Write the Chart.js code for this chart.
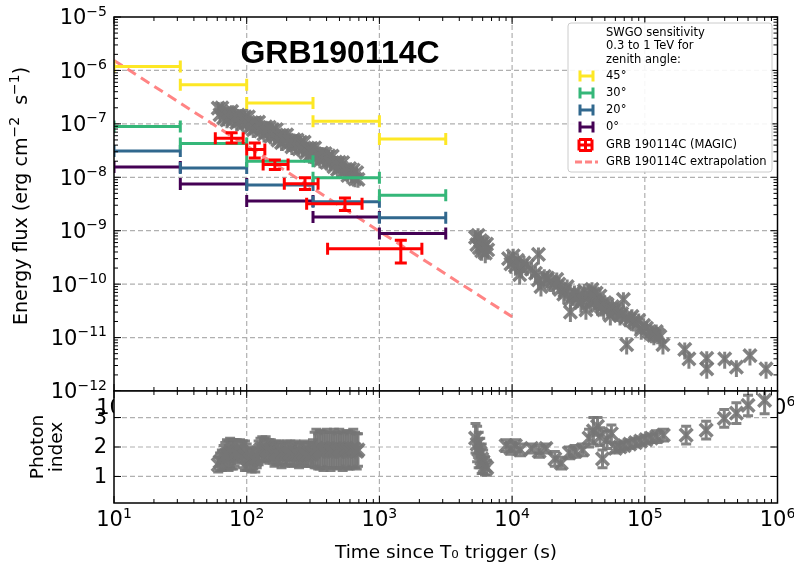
<!DOCTYPE html>
<html>
<head>
<meta charset="utf-8">
<script src="https://cdn.jsdelivr.net/npm/chart.js@4.4.0/dist/chart.umd.min.js"></script>
<style>
  body { margin: 0; background: #fff; }
  #wrap { position: relative; width: 794px; height: 567px; }
  canvas { position: absolute; left: 0; top: 0; }
</style>
</head>
<body>
<div id="wrap">
  <canvas id="fluxChart" width="794" height="567"></canvas>
  <canvas id="indexChart" width="794" height="567"></canvas>
</div>
<script>
// SWGO sensitivity, time bins (s) and flux per zenith angle (erg cm-2 s-1)
const binEdges = [10, 31.6, 100, 316, 1000, 3162];
const sens45 = [1.19e-6, 5.4e-7, 2.46e-7, 1.12e-7, 5.2e-8];
const sens30 = [8.9e-8, 4.3e-8, 2.0e-8, 9.8e-9, 4.6e-9];
const sens20 = [3.1e-8, 1.5e-8, 7.2e-9, 3.5e-9, 1.74e-9];
const sens0 = [1.55e-8, 7.5e-9, 3.6e-9, 1.8e-9, 8.9e-10];

// MAGIC points
const magicTime = [77, 115, 163, 275, 550, 1450];
const magicTimeLo = [58, 100, 133, 192, 283, 407];
const magicTimeHi = [94, 137, 205, 345, 740, 2090];
const magicFlux = [5.4e-8, 3.3e-8, 1.74e-8, 7.6e-9, 3.2e-9, 4.6e-10];
const magicFluxLo = [4.4e-8, 2.3e-8, 1.4e-8, 5.9e-9, 2.4e-9, 2.5e-10];
const magicFluxHi = [6.8e-8, 4.4e-8, 2.1e-8, 9.8e-9, 4.1e-9, 6.6e-10];

// extrapolation
const extrapTime = [10, 10000];
const extrapFlux = [1.54e-6, 2.45e-11];

// early gray data (both panels share the time bins)
const earlyTime = [61, 63, 65, 67, 69, 71, 73, 75, 77, 79, 81, 84, 86, 89, 91, 94, 97, 100, 103, 106,
  109, 112, 116, 119, 123, 127, 131, 135, 139, 143, 148, 152, 157, 162, 167, 172, 177, 183, 188, 194,
  200, 206, 213, 219, 226, 233, 240, 248, 255, 263, 271, 280, 288, 297, 306, 316, 325, 335, 346, 356,
  367, 379, 390, 402, 415, 428, 441, 454, 468, 483, 498, 513, 529, 545, 562, 579, 597, 616, 635, 655, 675, 690];
const earlyFlux = [1.97e-7, 1.49e-7, 2.0e-7, 1.29e-7, 1.59e-7, 1.18e-7, 1.63e-7, 1.35e-7, 1.71e-7, 1.18e-7,
  1.33e-7, 1.05e-7, 1.46e-7, 1.15e-7, 1.46e-7, 1.0e-7, 1.35e-7, 1.01e-7, 1.35e-7, 8.65e-8,
  1.05e-7, 7.76e-8, 1.05e-7, 8.7e-8, 1.08e-7, 7.4e-8, 8.2e-8, 6.4e-8, 8.8e-8, 6.9e-8,
  8.6e-8, 5.9e-8, 7.8e-8, 5.8e-8, 7.8e-8, 4.97e-8, 6.07e-8, 4.44e-8, 6.08e-8, 4.99e-8,
  6.2e-8, 4.26e-8, 4.72e-8, 3.72e-8, 5.07e-8, 3.98e-8, 4.97e-8, 3.39e-8, 4.53e-8, 3.4e-8,
  4.54e-8, 2.88e-8, 3.51e-8, 2.56e-8, 3.48e-8, 2.85e-8, 3.55e-8, 2.42e-8, 2.67e-8, 2.1e-8,
  2.85e-8, 2.22e-8, 2.77e-8, 1.89e-8, 2.51e-8, 1.87e-8, 2.49e-8, 1.59e-8, 1.93e-8, 1.4e-8,
  1.9e-8, 1.54e-8, 1.89e-8, 1.28e-8, 1.39e-8, 1.08e-8, 1.45e-8, 1.12e-8, 1.37e-8, 9.3e-9, 1.22e-8, 9.1e-9];
const earlyFluxRelErr = 0.3;
const earlyIndex = [1.4, 1.5, 1.55, 1.65, 1.7, 1.75, 1.7, 1.8, 1.75, 1.75, 1.8, 1.85, 1.9, 1.95, 1.85, 1.75, 1.7, 1.65, 1.6, 1.55,
  1.55, 1.6, 1.55, 1.65, 1.8, 1.9, 1.95, 1.9, 1.95, 1.9, 1.85, 1.9, 1.8, 1.75, 1.8, 1.75, 1.8, 1.7, 1.8, 1.75,
  1.8, 1.75, 1.8, 1.7, 1.75, 1.8, 1.75, 1.7, 1.8, 1.75, 1.8, 1.7, 1.75, 1.8, 1.75, 1.8, 1.9, 1.95, 1.85, 1.9,
  1.95, 1.85, 1.9, 1.95, 1.9, 1.85, 1.9, 1.95, 1.9, 1.85, 1.95, 1.9, 1.85, 1.9, 1.95, 1.9, 1.85, 1.9, 1.95, 1.9, 1.85, 1.9];
const earlyIndexErr = [0.25, 0.3, 0.35, 0.4, 0.45, 0.5, 0.5, 0.5, 0.5, 0.5, 0.45, 0.4, 0.3, 0.3, 0.35, 0.45, 0.5, 0.45, 0.4, 0.35,
  0.4, 0.35, 0.4, 0.35, 0.4, 0.4, 0.4, 0.4, 0.4, 0.35, 0.4, 0.35, 0.35, 0.4, 0.4, 0.35, 0.4, 0.4, 0.35, 0.4,
  0.4, 0.35, 0.4, 0.35, 0.4, 0.4, 0.35, 0.4, 0.35, 0.4, 0.4, 0.35, 0.4, 0.35, 0.4, 0.45, 0.6, 0.65, 0.6, 0.65,
  0.6, 0.65, 0.6, 0.65, 0.6, 0.65, 0.6, 0.65, 0.6, 0.6, 0.65, 0.6, 0.65, 0.6, 0.6, 0.65, 0.6, 0.6, 0.65, 0.6, 0.6, 0.55];

// later gray flux points
const lateFluxTime = [5300, 5420, 5540, 5660, 5780, 5900, 6020, 6150, 6280, 6420, 6550,
  9400, 9800, 10200, 10600, 11000, 11400, 11800, 12300, 13000, 14000,
  15000, 15800, 15800, 16500, 17500, 18500, 19500, 20500, 21700, 22500, 23000, 24500, 25000, 26000,
  27500, 27500, 28500, 29500, 31000, 32000, 33000, 34000, 35000, 36000, 37000, 38000, 39000, 40000,
  41000, 42000, 43000, 44000, 45000, 46000, 47000, 49000, 50000, 52000, 53000, 55000, 57000, 58000,
  61000, 63000, 65000, 67000, 69000, 72000, 73000, 77000, 80000, 82000, 86000, 90000, 94000, 98000,
  103000, 108000, 112000, 117000, 122000, 125000, 130000, 137000,
  200000, 215000, 293000, 293000, 400000, 490000, 620000, 820000];
const lateFlux = [7.5e-10, 5.5e-10, 8.2e-10, 4.8e-10, 6.5e-10, 4.2e-10, 6.0e-10, 5.0e-10, 3.8e-10, 5.6e-10, 4.4e-10,
  3.0e-10, 2.4e-10, 3.4e-10, 2.2e-10, 2.8e-10, 1.5e-10, 2.0e-10, 2.5e-10, 2.2e-10, 1.9e-10,
  1.6e-10, 3.6e-10, 1.2e-10, 9.0e-11, 1.4e-10, 1.3e-10, 1.1e-10, 1.0e-10, 1.23e-10, 1.0e-10, 8.0e-11, 6.5e-11, 7.5e-11, 9.0e-11,
  5.2e-11, 3.0e-11, 6.0e-11, 7.0e-11, 5.5e-11, 6.5e-11, 4.5e-11, 5.0e-11, 7.5e-11, 3.3e-11, 5.5e-11, 6.5e-11, 4.5e-11, 8.0e-11,
  6.5e-11, 5.0e-11, 6.8e-11, 4.0e-11, 4.8e-11, 6.0e-11, 3.8e-11, 3.3e-11, 4.5e-11, 4.2e-11, 3.5e-11, 2.6e-11, 3.8e-11, 3.2e-11,
  3.4e-11, 3.0e-11, 2.6e-11, 2.8e-11, 5.2e-11, 2.4e-11, 7.4e-12, 2.2e-11, 2.5e-11, 2.0e-11, 1.8e-11, 2.1e-11, 1.4e-11, 1.7e-11,
  1.5e-11, 1.3e-11, 1.2e-11, 1.1e-11, 1.3e-11, 1.15e-11, 1.05e-11, 7.4e-12,
  6.0e-12, 4.0e-12, 4.1e-12, 2.6e-12, 4.0e-12, 2.8e-12, 4.6e-12, 2.6e-12];
const lateFluxRelErr = 0.35;

// later photon index points
const lateIndexTime = [5300, 5450, 5600, 5750, 5900, 6050, 6250, 6450,
  9000, 9800, 10600, 11500, 14000, 16000, 18000, 21000, 23500, 27000, 30000, 34000,
  38000, 41000, 44000, 46000, 48000, 52000, 56000, 60000, 65000, 70000, 77000, 85000, 93000,
  102000, 112000, 123000, 138000, 205000, 290000, 397000, 490000, 600000, 800000];
const lateIndex = [2.3, 2.1, 1.9, 1.8, 1.6, 1.5, 1.35, 1.3,
  2.05, 1.95, 2.05, 1.9, 1.95, 1.85, 1.95, 1.6, 1.45, 1.8, 1.85, 1.9,
  2.3, 2.55, 2.7, 2.35, 1.6, 2.25, 2.45, 1.95, 2.0, 2.05, 2.1, 2.15, 2.2,
  2.25, 2.3, 2.35, 2.4, 2.4, 2.57, 2.97, 3.15, 3.41, 3.58];
const lateIndexErr = [0.5, 0.6, 0.6, 0.5, 0.5, 0.4, 0.3, 0.25,
  0.2, 0.2, 0.2, 0.2, 0.15, 0.2, 0.15, 0.25, 0.2, 0.2, 0.2, 0.2,
  0.3, 0.45, 0.3, 0.3, 0.3, 0.3, 0.3, 0.15, 0.15, 0.15, 0.15, 0.15, 0.15,
  0.15, 0.15, 0.2, 0.2, 0.3, 0.3, 0.3, 0.35, 0.35, 0.45];
const indexTicks = [1, 2, 3];

const legendTitle = ['SWGO sensitivity', '0.3 to 1 TeV for', 'zenith angle:'];
const zenithLabels = ['45°', '30°', '20°', '0°'];

const GRAY = 'rgba(118,118,118,0.9)';
const colors = { 45: '#fde725', 30: '#35b779', 20: '#31688e', 0: '#440154' };
const RED = '#ff0000';
const PINK = 'rgba(255,110,110,0.85)';
const FONT = '"DejaVu Sans"';

function decades(lo, hi) {
  const out = [];
  for (let e = Math.round(Math.log10(lo)); e <= Math.round(Math.log10(hi)); e++) out.push(Math.pow(10, e));
  return out;
}
function minorsOf(lo, hi) {
  const out = [];
  decades(lo, hi).forEach(d => { for (let m = 2; m <= 9; m++) if (d * m < hi) out.push(d * m); });
  return out;
}

// "10" with a raised exponent, like matplotlib mathtext
function drawPow(c, v, x, y, align) {
  const e = Math.round(Math.log10(v));
  const expStr = String(e).replace('-', '\u2212');
  c.font = '21px ' + FONT; const w1 = c.measureText('10').width;
  c.font = '14px ' + FONT; const w2 = c.measureText(expStr).width;
  const left = align === 'right' ? x - w1 - w2 : x - (w1 + w2) / 2;
  c.textAlign = 'left'; c.textBaseline = 'middle';
  c.font = '21px ' + FONT; c.fillText('10', left, y);
  c.font = '14px ' + FONT; c.fillText(expStr, left + w1, y - 7);
}

// error bars drawn under each dataset, through the chart scales
const errorBars = {
  id: 'errorBars',
  beforeDatasetDraw(chart, args) {
    const ds = chart.data.datasets[args.index];
    if (!ds.errX && !ds.errY) return;
    const c = chart.ctx, xs = chart.scales.x, ys = chart.scales.y, a = chart.chartArea;
    const cap = ds.capSize || 0;
    c.save();
    c.beginPath(); c.rect(a.left, a.top, a.right - a.left, a.bottom - a.top); c.clip();
    c.strokeStyle = ds.errColor; c.lineWidth = ds.errWidth; c.lineCap = 'butt';
    ds.data.forEach((p, i) => {
      const px = xs.getPixelForValue(p.x), py = ys.getPixelForValue(p.y);
      c.beginPath();
      if (ds.errX) {
        const x0 = xs.getPixelForValue(ds.errX[i][0]), x1 = xs.getPixelForValue(ds.errX[i][1]);
        c.moveTo(x0, py); c.lineTo(x1, py);
        if (cap) { c.moveTo(x0, py - cap); c.lineTo(x0, py + cap); c.moveTo(x1, py - cap); c.lineTo(x1, py + cap); }
      }
      if (ds.errY) {
        const y0 = ys.getPixelForValue(ds.errY[i][0]), y1 = ys.getPixelForValue(ds.errY[i][1]);
        c.moveTo(px, y0); c.lineTo(px, y1);
        if (cap) { c.moveTo(px - cap, y0); c.lineTo(px + cap, y0); c.moveTo(px - cap, y1); c.lineTo(px + cap, y1); }
      }
      c.stroke();
    });
    c.restore();
  }
};

// dashed grid, inward ticks, frame and tick labels
function axesDecor(cfg) {
  return {
    id: 'axesDecor',
    beforeDraw(chart) {
      if (!cfg.whiteArea) return;
      const a = chart.chartArea, c = chart.ctx;
      c.save(); c.fillStyle = '#fff';
      c.fillRect(a.left, a.top, a.right - a.left, a.bottom - a.top);
      c.restore();
    },
    beforeDatasetsDraw(chart) {
      const a = chart.chartArea, c = chart.ctx, xs = chart.scales.x, ys = chart.scales.y;
      c.save(); c.strokeStyle = '#b0b0b0'; c.lineWidth = 1.2; c.setLineDash([5, 3]);
      cfg.xMajor.forEach(v => {
        const p = xs.getPixelForValue(v);
        if (p <= a.left + 1 || p >= a.right - 1) return;
        c.beginPath(); c.moveTo(p, a.top); c.lineTo(p, a.bottom); c.stroke();
      });
      cfg.yMajor.forEach(v => {
        const p = ys.getPixelForValue(v);
        if (p <= a.top + 1 || p >= a.bottom - 1) return;
        c.beginPath(); c.moveTo(a.left, p); c.lineTo(a.right, p); c.stroke();
      });
      c.restore();
    },
    afterDraw(chart) {
      const a = chart.chartArea, c = chart.ctx, xs = chart.scales.x, ys = chart.scales.y;
      c.save(); c.strokeStyle = '#000'; c.lineWidth = 1;
      const xt = (v, len) => { const p = xs.getPixelForValue(v); c.moveTo(p, a.bottom); c.lineTo(p, a.bottom - len); c.moveTo(p, a.top); c.lineTo(p, a.top + len); };
      const yt = (v, len) => { const p = ys.getPixelForValue(v); c.moveTo(a.left, p); c.lineTo(a.left + len, p); c.moveTo(a.right, p); c.lineTo(a.right - len, p); };
      c.beginPath();
      cfg.xMajor.forEach(v => xt(v, 7)); cfg.xMinor.forEach(v => xt(v, 4));
      cfg.yMajor.forEach(v => yt(v, 7)); cfg.yMinor.forEach(v => yt(v, 4));
      c.stroke();
      c.lineWidth = 1.5;
      c.strokeRect(a.left, a.top, a.right - a.left, a.bottom - a.top);
      // tick labels
      c.fillStyle = '#000';
      cfg.xMajor.forEach(v => drawPow(c, v, xs.getPixelForValue(v), a.bottom + 18, 'center'));
      cfg.yMajor.forEach(v => {
        const p = ys.getPixelForValue(v);
        if (cfg.yLog) drawPow(c, v, a.left - 7, p + 2, 'right');
        else { c.font = '21px ' + FONT; c.textAlign = 'right'; c.textBaseline = 'middle'; c.fillText(String(v), a.left - 7, p + 1); }
      });
      c.restore();
      if (cfg.after) cfg.after(chart);
    }
  };
}

function drawFluxTexts(chart) {
  const c = chart.ctx;
  c.save();
  c.fillStyle = '#000';
  c.font = 'bold 32px "Liberation Sans"';
  c.textAlign = 'center'; c.textBaseline = 'middle';
  c.fillText('GRB190114C', 340, 54);
  // y axis title with raised exponents
  c.translate(22, 196); c.rotate(-Math.PI / 2);
  const parts = [['Energy flux (erg cm', 0], ['\u22122', 1], ['  s', 0], ['\u22121', 1], [')', 0]];
  const fontOf = sup => (sup ? '14px ' : '19px ') + FONT;
  let total = 0;
  parts.forEach(p => { c.font = fontOf(p[1]); total += c.measureText(p[0]).width; });
  let x = -total / 2;
  c.textAlign = 'left';
  parts.forEach(p => { c.font = fontOf(p[1]); c.fillText(p[0], x, p[1] ? -6.5 : 0); x += c.measureText(p[0]).width; });
  c.restore();

  // legend
  c.save();
  const bx = 568, by = 23, bw = 204, bh = 149;
  c.fillStyle = 'rgba(255,255,255,0.9)'; c.strokeStyle = '#cccccc'; c.lineWidth = 1;
  c.beginPath(); c.roundRect(bx, by, bw, bh, 3); c.fill(); c.stroke();
  c.fillStyle = '#000'; c.font = '11.5px ' + FONT; c.textAlign = 'left'; c.textBaseline = 'middle';
  legendTitle.forEach((t, i) => c.fillText(t, 606, 33 + i * 13.3));
  const rows = [76, 93, 110, 127, 145, 162];
  [45, 30, 20, 0].forEach((z, i) => {
    const y = rows[i];
    c.strokeStyle = colors[z]; c.lineWidth = 3;
    c.beginPath();
    c.moveTo(580, y); c.lineTo(593, y);
    c.moveTo(580, y - 5.5); c.lineTo(580, y + 5.5);
    c.moveTo(593, y - 5.5); c.lineTo(593, y + 5.5);
    c.stroke();
    c.fillText(zenithLabels[i], 606, y);
  });
  let y = rows[4];
  c.strokeStyle = RED; c.lineWidth = 3;
  c.beginPath();
  c.moveTo(579, y); c.lineTo(592, y); c.moveTo(585.5, y - 5.5); c.lineTo(585.5, y + 5.5);
  c.moveTo(579, y - 5.5); c.lineTo(579, y + 5.5); c.moveTo(592, y - 5.5); c.lineTo(592, y + 5.5);
  c.moveTo(579, y - 5.5); c.lineTo(592, y - 5.5); c.moveTo(579, y + 5.5); c.lineTo(592, y + 5.5);
  c.stroke();
  c.fillText('GRB 190114C (MAGIC)', 606, y);
  y = rows[5];
  c.strokeStyle = PINK; c.lineWidth = 3; c.setLineDash([7, 3]);
  c.beginPath(); c.moveTo(575, y); c.lineTo(598, y); c.stroke();
  c.setLineDash([]);
  c.fillText('GRB 190114C extrapolation', 606, y);
  c.restore();
}

function drawIndexTexts(chart) {
  const c = chart.ctx;
  c.save();
  c.fillStyle = '#000'; c.font = '18.5px ' + FONT;
  c.textAlign = 'center'; c.textBaseline = 'middle';
  c.fillText('Time since T\u2080 trigger (s)', 446, 553);
  c.translate(0, 447); c.rotate(-Math.PI / 2);
  c.fillText('Photon', 0, 38.5);
  c.fillText('index', 0, 57.5);
  c.restore();
}

const sensDataset = (vals, z) => ({
  label: z + '°',
  data: vals.map((v, i) => ({ x: Math.sqrt(binEdges[i] * binEdges[i + 1]), y: v })),
  errX: vals.map((v, i) => [binEdges[i], binEdges[i + 1]]),
  errColor: colors[z], errWidth: 3, capSize: 6,
  pointRadius: 0, order: 2
});
const grayStyle = {
  errColor: GRAY, errWidth: 3, pointStyle: 'crossRot', pointRadius: 9, pointBorderWidth: 3.5,
  pointBorderColor: GRAY, pointBackgroundColor: GRAY
};
const hiddenTicks = { display: false };

const fluxTime = earlyTime.concat(lateFluxTime);
const fluxVal = earlyFlux.concat(lateFlux);
const fluxRel = earlyFlux.map(() => earlyFluxRelErr).concat(lateFlux.map(() => lateFluxRelErr));
const idxTime = earlyTime.concat(lateIndexTime);
const idxVal = earlyIndex.concat(lateIndex);
const idxErr = earlyIndexErr.concat(lateIndexErr);

new Chart(document.getElementById('fluxChart'), {
  type: 'scatter',
  data: {
    datasets: [
      {
        label: 'GRB 190114C (MAGIC)',
        data: magicTime.map((t, i) => ({ x: t, y: magicFlux[i] })),
        errX: magicTime.map((t, i) => [magicTimeLo[i], magicTimeHi[i]]),
        errY: magicTime.map((t, i) => [magicFluxLo[i], magicFluxHi[i]]),
        errColor: RED, errWidth: 3, capSize: 6,
        pointRadius: 0, order: 1
      },
      sensDataset(sens45, 45), sensDataset(sens30, 30), sensDataset(sens20, 20), sensDataset(sens0, 0),
      {
        label: 'GRB 190114C extrapolation',
        data: extrapTime.map((t, i) => ({ x: t, y: extrapFlux[i] })),
        showLine: true, borderColor: PINK, borderWidth: 3, borderDash: [10, 6],
        pointRadius: 0, order: 3
      },
      Object.assign({
        label: 'light curve',
        data: fluxTime.map((t, i) => ({ x: t, y: fluxVal[i] })),
        errY: fluxTime.map((t, i) => [fluxVal[i] * (1 - fluxRel[i]), fluxVal[i] * (1 + fluxRel[i])]),
        order: 10
      }, grayStyle)
    ]
  },
  options: {
    responsive: false, animation: false,
    layout: { padding: { left: 0, right: 16.5, top: 17, bottom: 0 } },
    plugins: { legend: { display: false }, tooltip: { enabled: false } },
    scales: {
      x: {
        type: 'logarithmic', min: 10, max: 1e6,
        grid: { display: false, drawTicks: false }, border: { display: false }, ticks: hiddenTicks,
        afterFit: s => { s.height = 567 - 391; }
      },
      y: {
        type: 'logarithmic', min: 1e-12, max: 1e-5,
        grid: { display: false, drawTicks: false }, border: { display: false }, ticks: hiddenTicks,
        afterFit: s => { s.width = 114; }
      }
    }
  },
  plugins: [errorBars, axesDecor({
    xMajor: decades(10, 1e6), xMinor: minorsOf(10, 1e6),
    yMajor: decades(1e-12, 1e-5), yMinor: minorsOf(1e-12, 1e-5), yLog: true,
    after: drawFluxTexts
  })]
});

new Chart(document.getElementById('indexChart'), {
  type: 'scatter',
  data: {
    datasets: [Object.assign({
      label: 'photon index',
      data: idxTime.map((t, i) => ({ x: t, y: idxVal[i] })),
      errY: idxTime.map((t, i) => [idxVal[i] - idxErr[i], idxVal[i] + idxErr[i]]),
      capSize: 5
    }, grayStyle)]
  },
  options: {
    responsive: false, animation: false,
    layout: { padding: { left: 0, right: 16.5, top: 391, bottom: 0 } },
    plugins: { legend: { display: false }, tooltip: { enabled: false } },
    scales: {
      x: {
        type: 'logarithmic', min: 10, max: 1e6,
        grid: { display: false, drawTicks: false }, border: { display: false }, ticks: hiddenTicks,
        afterFit: s => { s.height = 64; }
      },
      y: {
        type: 'linear', min: 0.1, max: 3.9,
        grid: { display: false, drawTicks: false }, border: { display: false }, ticks: hiddenTicks,
        afterFit: s => { s.width = 114; }
      }
    }
  },
  plugins: [errorBars, axesDecor({
    whiteArea: true,
    xMajor: decades(10, 1e6), xMinor: minorsOf(10, 1e6),
    yMajor: indexTicks, yMinor: [], yLog: false,
    after: drawIndexTexts
  })]
});
</script>
</body>
</html>
